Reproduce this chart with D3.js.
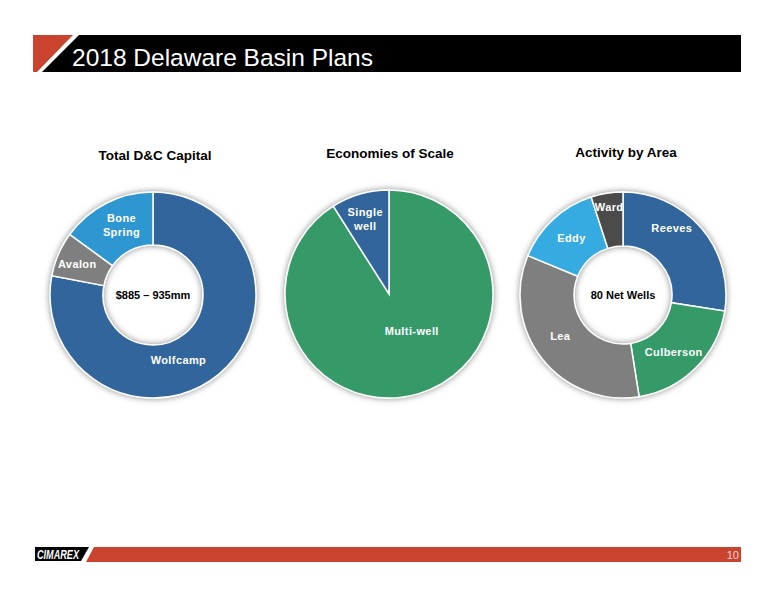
<!DOCTYPE html>
<html>
<head>
<meta charset="utf-8">
<script src="https://cdn.jsdelivr.net/npm/d3@7"></script>
<style>
  body { margin: 0; background: #fff; }
  text { font-family: "Liberation Sans", Arial, sans-serif; }
</style>
</head>
<body>
<div id="chart"></div>
<script>
// chart data
var capitalNames  = ["Wolfcamp", "Avalon", "Bone Spring"]
var capitalValues = [78, 7, 15]
var scaleNames    = ["Multi-well", "Single well"]
var scaleValues   = [91, 9]
var areaNames     = ["Reeves", "Culberson", "Lea", "Eddy", "Ward"]
var areaValues    = [22, 16, 27, 11, 4]

var width = 776, height = 600

var svg = d3.select("#chart").append("svg")
    .attr("width", width)
    .attr("height", height)

var defs = svg.append("defs")
var shadow = defs.append("filter").attr("id", "glow")
    .attr("x", "-20%").attr("y", "-20%").attr("width", "140%").attr("height", "140%")
shadow.append("feDropShadow")
    .attr("dx", 0).attr("dy", 0)
    .attr("stdDeviation", 3)
    .attr("flood-color", "#6f6f6f")
    .attr("flood-opacity", 0.8)

// header bar
svg.append("polygon")
    .attr("points", "33,35 73,35 37,72 33,72")
    .attr("fill", "#c9432f")
svg.append("polygon")
    .attr("points", "79,35 741,35 741,72 42,72")
    .attr("fill", "#000")
svg.append("text")
    .attr("x", 72).attr("y", 66)
    .attr("fill", "#fff")
    .attr("font-size", 24.5)
    .text("2018 Delaware Basin Plans")

// footer bar
svg.append("polygon")
    .attr("points", "35,547 89,547 81,561 35,561")
    .attr("fill", "#000")
svg.append("polygon")
    .attr("points", "94,547 741,547 741,562 86,562")
    .attr("fill", "#c9432f")
svg.append("text")
    .attr("x", 37).attr("y", 558.5)
    .attr("fill", "#fff")
    .attr("font-size", 12)
    .attr("font-weight", "bold")
    .attr("font-style", "italic")
    .attr("textLength", 42)
    .attr("lengthAdjust", "spacingAndGlyphs")
    .text("CIMAREX")
svg.append("text")
    .attr("x", 739).attr("y", 559)
    .attr("text-anchor", "end")
    .attr("fill", "#f6d3cb")
    .attr("font-size", 11)
    .text("10")

function drawDonut(opts) {
    var g = svg.append("g")
        .attr("transform", "translate(" + opts.cx + "," + opts.cy + ")")

    svg.append("text")
        .attr("x", opts.titleX).attr("y", opts.titleY)
        .attr("text-anchor", "middle")
        .attr("font-size", 13.5)
        .attr("font-weight", "bold")
        .attr("fill", "#000")
        .text(opts.title)

    var pie = d3.pie().sort(null).value(function (d) { return d })
    var arcs = pie(opts.values)

    var arc = d3.arc().innerRadius(opts.inner).outerRadius(opts.outer)
    var labelArc = d3.arc().innerRadius(opts.labelR).outerRadius(opts.labelR)

    var ring = g.append("g").attr("filter", "url(#glow)")
    ring.selectAll("path")
        .data(arcs)
        .enter()
        .append("path")
        .attr("d", arc)
        .attr("fill", function (d, i) { return opts.colors[i] })
        .attr("stroke", "#fff")
        .attr("stroke-width", 1.5)

    g.selectAll("text.lbl")
        .data(arcs)
        .enter()
        .append("text")
        .attr("class", "lbl")
        .attr("transform", function (d, i) {
            var c = labelArc.centroid(d)
            var n = opts.nudge[i]
            return "translate(" + (c[0] + n[0]) + "," + (c[1] + n[1]) + ")"
        })
        .attr("text-anchor", "middle")
        .attr("fill", "#fff")
        .attr("font-size", 11)
        .attr("font-weight", "bold")
        .attr("letter-spacing", 0.4)
        .each(function (d, i) {
            var lines = opts.labels[i].split("\n")
            var t = d3.select(this)
            lines.forEach(function (l, k) {
                t.append("tspan")
                    .attr("x", 0)
                    .attr("dy", k == 0 ? (4 - (lines.length - 1) * 7) : 14)
                    .text(l)
            })
        })

    if (opts.center) {
        g.append("text")
            .attr("y", 4)
            .attr("text-anchor", "middle")
            .attr("font-size", 11)
            .attr("font-weight", "bold")
            .attr("fill", "#000")
            .text(opts.center)
    }
}

drawDonut({
    cx: 153, cy: 295, inner: 50, outer: 103, labelR: 76,
    title: "Total D&C Capital", titleX: 155, titleY: 160,
    values: capitalValues,
    labels: ["Wolfcamp", "Avalon", "Bone\nSpring"],
    colors: ["#31659b", "#7f7f7f", "#2f96d1"],
    nudge: [[-23, 6], [-6, -1], [3, -2]],
    center: "$885 \u2013 935mm"
})

drawDonut({
    cx: 389, cy: 294, inner: 0, outer: 104, labelR: 60,
    title: "Economies of Scale", titleX: 390, titleY: 158,
    values: scaleValues,
    labels: ["Multi-well", "Single\nwell"],
    colors: ["#359a67", "#31659b"],
    nudge: [[6, -21], [-7, -17]],
    center: null
})

drawDonut({
    cx: 623, cy: 295, inner: 49, outer: 103, labelR: 76,
    title: "Activity by Area", titleX: 626, titleY: 157,
    values: areaValues,
    labels: ["Reeves", "Culberson", "Lea", "Eddy", "Ward"],
    colors: ["#31659b", "#359a67", "#7f7f7f", "#35abe2", "#4b4b4b"],
    nudge: [[-9, -18], [-3, 3], [-3, -6], [0, -1], [-2, -13]],
    center: "80 Net Wells"
})
</script>
</body>
</html>
